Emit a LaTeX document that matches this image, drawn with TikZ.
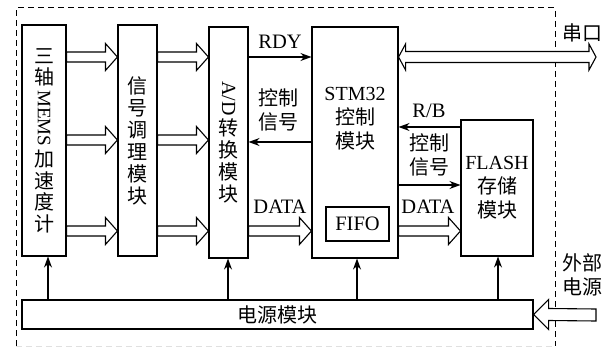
\documentclass[tikz,border=0pt]{standalone}
\usepackage{fontspec}
\setmainfont{Liberation Serif}
\newfontfamily\cjk{Noto Sans CJK SC}
\usepackage{graphicx}
\usetikzlibrary{arrows.meta,calc}
\tikzset{
  box/.style={draw, line width=1.1pt, inner sep=0pt},
  cn/.style={font=\cjk\fontsize{20}{22}\selectfont, align=center, inner sep=0pt},
  cnl/.style={font=\cjk\fontsize{20}{24}\selectfont, align=center, inner sep=0pt},
  lat/.style={font=\fontsize{20.5}{24}\selectfont, inner sep=0pt},
  arr/.style={line width=1.1pt, -{Stealth[length=11pt,width=8pt]}},
  hollow/.style={draw, line width=1.1pt, fill=white, line join=miter},
  frame/.style={line width=1pt, dash pattern=on 6pt off 4pt},
}
% #1 start, #2 tip, #3 signed head offset, #4 shaft half width, #5 head half width
\newcommand\holarrow[5]{%
  \draw[hollow] ($(#1)+(0,#4)$) -- ($(#2)+(#3,#4)$) -- ($(#2)+(#3,#5)$) -- (#2)
    -- ($(#2)+(#3,-#5)$) -- ($(#2)+(#3,-#4)$) -- ($(#1)+(0,-#4)$) -- cycle;}
\begin{document}
\begin{tikzpicture}[x=1pt,y=1pt]
\useasboundingbox (0,0) rectangle (609,348);
% frame
\draw[frame] (16,2) -- (16,340) -- (555,340) -- (555,2);
\draw[frame, black!12] (16,2) -- (555,2);
% rows
\coordinate (r1) at (0,291);
\coordinate (r2) at (0,208);
\coordinate (r3) at (0,117);
\coordinate (rc) at (0,206);
\coordinate (rb) at (0,221);
\coordinate (rf) at (0,163);
% boxes
\node[box, minimum width=44, minimum height=231, cn, font=\cjk\fontsize{20}{21.5}\selectfont] (b1) at (44,207.5)
  {三\\轴\\[3pt]\rotatebox[origin=c]{-90}{\rmfamily\fontsize{19}{21}\selectfont MEMS}\\[3pt]加\\速\\度\\计};
\node[box, minimum width=39, minimum height=231, cn] (b2) at (137.5,207.5)
  {信\\号\\调\\理\\模\\块};
\node[box, minimum width=39, minimum height=231, cn] (b3) at (228.5,205.5)
  {\rotatebox[origin=c]{-90}{\rmfamily A/D}\\[2pt]转\\换\\模\\块};
\node[box, minimum width=86, minimum height=231] (stm) at (355,205.5) {};
\node[cnl] (stmt) at (355,229) {{\rmfamily STM32}\\控制\\模块};
\node[box, minimum width=63, minimum height=34, lat] (fifo) at (357.5,124) {FIFO};
\node[box, minimum width=72, minimum height=136, cnl] (flash) at (497,160)
  {{\rmfamily FLASH}\\存储\\模块};
\node[box, minimum width=511, minimum height=29, cn] (power) at (277.5,33.5)
  {电源模块};
% hollow arrows
\foreach \r in {r1,r2,r3}{
  \holarrow{b1.east |- \r}{b2.west |- \r}{-12}{5}{13.5}
  \holarrow{b2.east |- \r}{b3.west |- \r}{-12}{5}{13.5}
}
\holarrow{b3.east |- r3}{stm.west |- r3}{-12}{5}{13.5}
\holarrow{stm.east |- r3}{flash.west |- r3}{-12}{5}{13.5}
% serial double arrow
\coordinate (serend) at (596,291);
\draw[hollow] (stm.east |- serend) -- ++(7,13) -- ++(0,-7.5) -- ($(serend)+(-7,5.5)$)
  -- ++(0,7.5) -- (serend) -- ++(-7,-13) -- ++(0,7.5) -- ($(stm.east |- serend)+(7,-5.5)$)
  -- ++(0,-7.5) -- cycle;
\node[cn] (ser) at (582,315) {串口};
% external power
\coordinate (extsrc) at (596,33);
\holarrow{extsrc}{power.east}{15}{6}{15}
\node[cnl] (ext) at (582,73) {外部\\电源};
% thin arrows
\draw[arr] (b3.east |- r1) -- (stm.west |- r1);
\node[lat] (rdy) at (280,306) {RDY};
\draw[arr] (stm.west |- rc) -- (b3.east |- rc);
\node[cnl] (ctl1) at (278,238) {控制\\信号};
\node[lat] (data1) at (280,141) {DATA};
\draw[arr] (flash.west |- rb) -- (stm.east |- rb);
\node[lat] (rb) at (429,237) {R/B};
\draw[arr] (stm.east |- rf) -- (flash.west |- rf);
\node[cnl] (ctl2) at (429,193) {控制\\信号};
\node[lat] (data2) at (428,141) {DATA};
% power arrows
\foreach \x/\n in {48/b1,228/b3,357/stm,498/flash}{
  \draw[arr] (\x,0 |- power.north) -- (\x,0 |- \n.south);
}
\end{tikzpicture}
\end{document}
